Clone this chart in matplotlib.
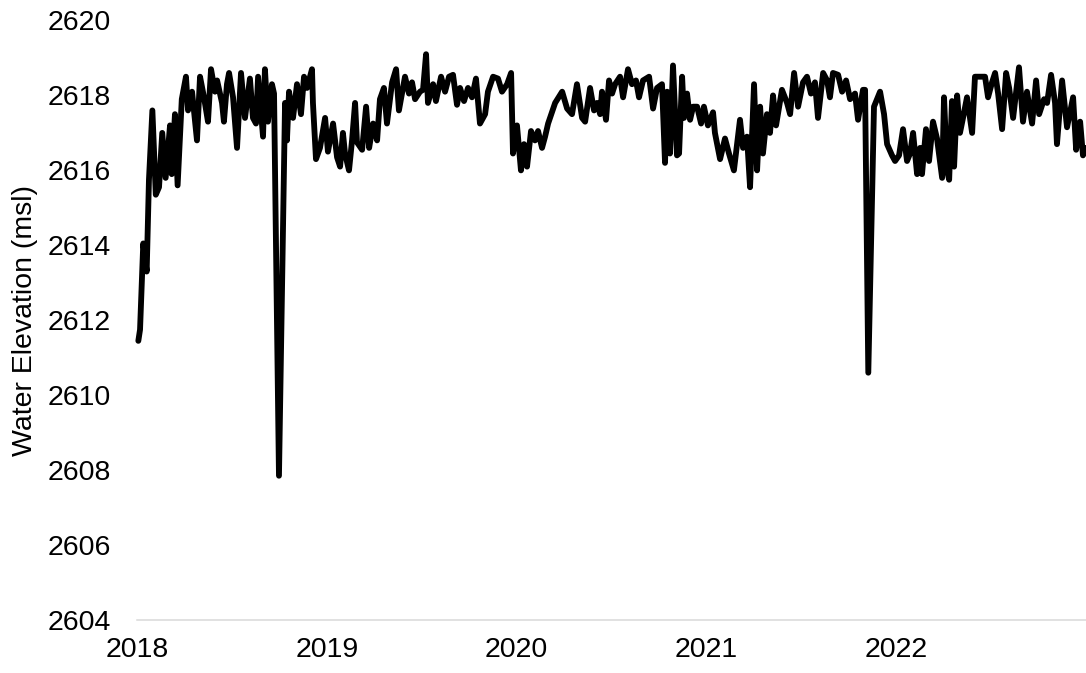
import matplotlib
matplotlib.use("Agg")
import matplotlib.pyplot as plt
import numpy as np

# Decimal year of each reading and the water elevation (msl)
date_year = [
    2018.007, 2018.016, 2018.033, 2018.051, 2018.063, 2018.081, 2018.099, 2018.116, 2018.133, 2018.151,
    2018.174, 2018.183, 2018.200, 2018.214, 2018.236, 2018.258, 2018.269, 2018.290, 2018.316, 2018.332,
    2018.353, 2018.374, 2018.390, 2018.411, 2018.422, 2018.448, 2018.458, 2018.474, 2018.485, 2018.506,
    2018.527, 2018.548, 2018.569, 2018.595, 2018.611, 2018.627, 2018.638, 2018.664, 2018.674, 2018.690,
    2018.711, 2018.722, 2018.748, 2018.780, 2018.790, 2018.801, 2018.822, 2018.843, 2018.864, 2018.880,
    2018.896, 2018.922, 2018.927, 2018.943, 2018.964, 2018.991, 2019.006, 2019.033, 2019.054, 2019.070,
    2019.085, 2019.096, 2019.117, 2019.133, 2019.149, 2019.159, 2019.186, 2019.207, 2019.223, 2019.244,
    2019.265, 2019.280, 2019.301, 2019.317, 2019.344, 2019.365, 2019.380, 2019.412, 2019.433, 2019.449,
    2019.465, 2019.491, 2019.507, 2019.523, 2019.533, 2019.560, 2019.575, 2019.602, 2019.623, 2019.644,
    2019.665, 2019.686, 2019.702, 2019.723, 2019.744, 2019.765, 2019.786, 2019.807, 2019.834, 2019.849,
    2019.876, 2019.902, 2019.923, 2019.950, 2019.971, 2019.981, 2020.002, 2020.023, 2020.039, 2020.055,
    2020.076, 2020.097, 2020.113, 2020.134, 2020.150, 2020.166, 2020.203, 2020.240, 2020.266, 2020.292,
    2020.318, 2020.345, 2020.361, 2020.387, 2020.408, 2020.424, 2020.440, 2020.450, 2020.471, 2020.487,
    2020.503, 2020.519, 2020.545, 2020.561, 2020.587, 2020.608, 2020.629, 2020.645, 2020.666, 2020.698,
    2020.719, 2020.740, 2020.766, 2020.782, 2020.793, 2020.808, 2020.824, 2020.845, 2020.856, 2020.872,
    2020.882, 2020.898, 2020.914, 2020.930, 2020.951, 2020.972, 2020.987, 2021.008, 2021.035, 2021.045,
    2021.072, 2021.098, 2021.119, 2021.145, 2021.177, 2021.193, 2021.214, 2021.230, 2021.251, 2021.267,
    2021.283, 2021.298, 2021.319, 2021.335, 2021.351, 2021.367, 2021.398, 2021.425, 2021.441, 2021.462,
    2021.483, 2021.509, 2021.530, 2021.551, 2021.572, 2021.588, 2021.615, 2021.636, 2021.651, 2021.667,
    2021.694, 2021.715, 2021.736, 2021.757, 2021.783, 2021.799, 2021.825, 2021.836, 2021.853, 2021.883,
    2021.915, 2021.936, 2021.952, 2021.978, 2021.994, 2022.015, 2022.036, 2022.057, 2022.073, 2022.089,
    2022.110, 2022.126, 2022.136, 2022.157, 2022.173, 2022.194, 2022.215, 2022.242, 2022.252, 2022.268,
    2022.279, 2022.294, 2022.305, 2022.321, 2022.336, 2022.352, 2022.373, 2022.400, 2022.415, 2022.442,
    2022.468, 2022.484, 2022.505, 2022.521, 2022.537, 2022.558, 2022.579, 2022.595, 2022.616, 2022.647,
    2022.668, 2022.689, 2022.716, 2022.737, 2022.753, 2022.779, 2022.795, 2022.816, 2022.837, 2022.847,
    2022.874, 2022.900, 2022.932, 2022.948, 2022.969, 2022.984, 2023.000,
]

elevation = [
    2611.45, 2611.75, 2614.05, 2613.30, 2615.75, 2617.60, 2615.35, 2615.55, 2617.00, 2615.80,
    2617.20, 2615.90, 2617.50, 2615.60, 2617.90, 2618.50, 2617.60, 2618.10, 2616.80, 2618.50,
    2617.95, 2617.30, 2618.70, 2618.10, 2618.40, 2617.80, 2617.30, 2618.30, 2618.60, 2617.95,
    2616.60, 2618.60, 2617.40, 2618.45, 2617.40, 2617.25, 2618.50, 2616.90, 2618.70, 2617.30,
    2618.30, 2618.05, 2607.85, 2617.80, 2616.80, 2618.10, 2617.40, 2618.30, 2617.50, 2618.50,
    2618.20, 2618.70, 2617.80, 2616.30, 2616.60, 2617.40, 2616.50, 2617.25, 2616.35, 2616.10,
    2617.00, 2616.45, 2616.00, 2616.80, 2617.80, 2616.75, 2616.55, 2617.70, 2616.60, 2617.25,
    2616.80, 2617.90, 2618.20, 2617.25, 2618.35, 2618.70, 2617.60, 2618.50, 2618.05, 2618.35,
    2617.90, 2618.10, 2618.15, 2619.10, 2617.80, 2618.30, 2617.85, 2618.50, 2618.10, 2618.50,
    2618.55, 2617.75, 2618.20, 2617.85, 2618.20, 2617.95, 2618.45, 2617.25, 2617.50, 2618.10,
    2618.50, 2618.45, 2618.10, 2618.30, 2618.60, 2616.45, 2617.20, 2616.00, 2616.70, 2616.10,
    2617.05, 2616.80, 2617.05, 2616.60, 2616.90, 2617.25, 2617.80, 2618.10, 2617.65, 2617.50,
    2618.30, 2617.40, 2617.30, 2618.20, 2617.60, 2617.80, 2617.50, 2618.10, 2617.35, 2618.40,
    2618.05, 2618.30, 2618.50, 2617.95, 2618.70, 2618.30, 2618.40, 2617.95, 2618.40, 2618.50,
    2617.65, 2618.20, 2618.30, 2616.20, 2618.10, 2616.45, 2618.80, 2616.40, 2616.45, 2618.50,
    2617.40, 2618.05, 2617.35, 2617.70, 2617.70, 2617.25, 2617.70, 2617.20, 2617.55, 2617.00,
    2616.30, 2616.85, 2616.45, 2616.00, 2617.35, 2616.60, 2616.90, 2615.55, 2618.30, 2616.00,
    2617.70, 2616.45, 2617.50, 2617.00, 2618.00, 2617.20, 2618.15, 2617.80, 2617.50, 2618.60,
    2617.70, 2618.35, 2618.50, 2618.05, 2618.35, 2617.40, 2618.60, 2618.40, 2617.95, 2618.60,
    2618.55, 2618.10, 2618.40, 2617.90, 2618.05, 2617.35, 2618.15, 2618.15, 2610.60, 2617.70,
    2618.10, 2617.50, 2616.70, 2616.40, 2616.25, 2616.40, 2617.10, 2616.25, 2616.45, 2617.00,
    2615.90, 2616.60, 2615.90, 2617.10, 2616.25, 2617.30, 2616.85, 2615.80, 2617.95, 2616.00,
    2615.75, 2617.85, 2616.10, 2618.00, 2617.00, 2617.40, 2617.95, 2617.00, 2618.50, 2618.50,
    2618.50, 2617.95, 2618.35, 2618.60, 2618.05, 2617.10, 2618.60, 2618.20, 2617.40, 2618.75,
    2617.30, 2618.10, 2617.25, 2618.40, 2617.50, 2617.90, 2617.80, 2618.55, 2617.80, 2616.70,
    2618.40, 2617.15, 2617.95, 2616.55, 2617.30, 2616.40, 2616.60,
]

x_ticks = [2018, 2019, 2020, 2021, 2022]
x_tick_labels = ["2018", "2019", "2020", "2021", "2022"]
y_ticks = [2604, 2606, 2608, 2610, 2612, 2614, 2616, 2618, 2620]
y_label = "Water Elevation (msl)"

plt.rcParams["font.family"] = ["Liberation Sans", "DejaVu Sans"]

fig = plt.figure(figsize=(10.86, 6.73), dpi=100)
ax = fig.add_axes([137 / 1086, 1 - 620 / 673, 949 / 1086, (620 - 20.5) / 673])

ax.plot(date_year, elevation, color="black", lw=4.2,
        solid_joinstyle="round", solid_capstyle="round", clip_on=False)

ax.set_xlim(2018, 2023)
ax.set_ylim(2604, 2620)
ax.set_xticks(x_ticks)
ax.set_xticklabels(x_tick_labels)
ax.set_yticks(y_ticks)
ax.set_yticklabels([str(v) for v in y_ticks])

for side in ["top", "right", "left"]:
    ax.spines[side].set_visible(False)
ax.spines["bottom"].set_color("#d9d9d9")
ax.spines["bottom"].set_linewidth(1.1)

ax.tick_params(axis="y", length=0, pad=19, labelsize=20.5, labelcolor="black")
ax.tick_params(axis="x", length=0, pad=12.5, labelsize=20.5, labelcolor="black")

ax.set_ylabel(y_label, fontsize=20.5, color="black")
ax.yaxis.set_label_coords(-0.104, 0.5)

fig.savefig("out.png", dpi=100)
